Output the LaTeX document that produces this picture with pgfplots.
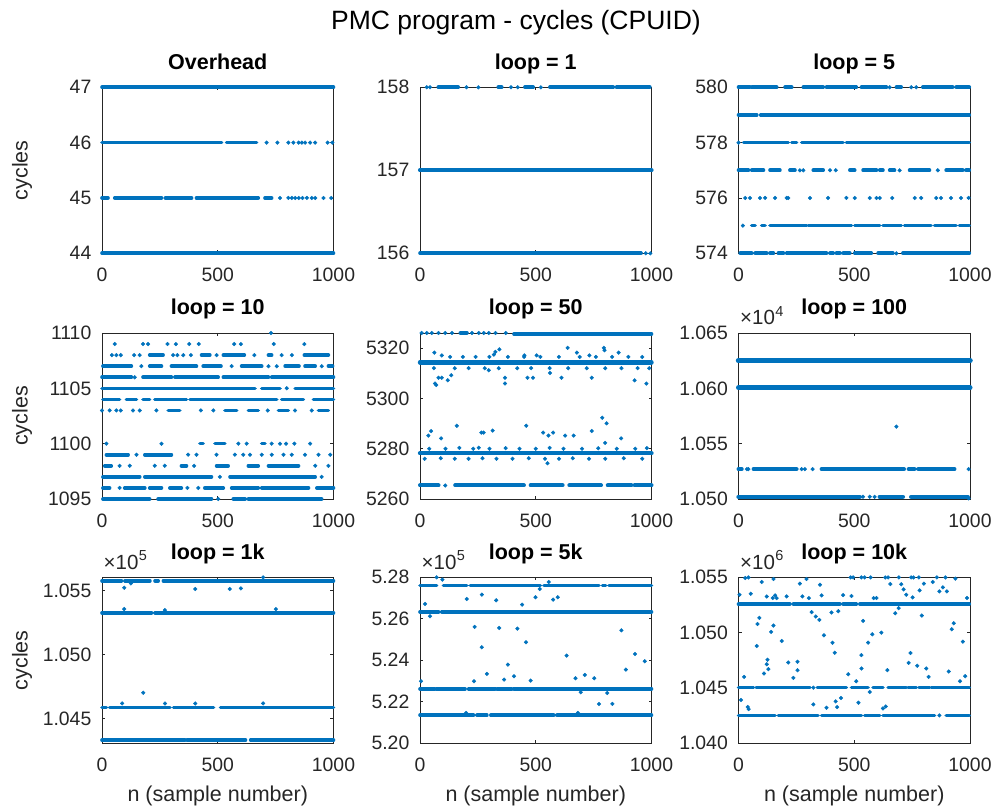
\documentclass[border=0pt]{standalone}
\usepackage{fontspec}
\setmainfont{Liberation Sans}
\usepackage{pgfplots}
\pgfplotsset{compat=1.18}

\definecolor{mblue}{RGB}{0,114,189}
\definecolor{axgray}{gray}{0.15}

\pgfplotsset{
  /pgf/number format/1000 sep={},
  /pgf/number format/assume math mode=true,
  panel/.style={
    scale only axis, width=231.5pt, height=166pt, anchor=south west,
    xmin=0, xmax=1000, xtick={0,500,1000}, clip=false,
    scaled ticks=false,
    axis line style={axgray, line width=0.8pt},
    tick style={axgray, line width=0.8pt},
    major tick length=3pt, tick align=inside,
    tick label style={font=\fontsize{19.4}{23}\selectfont, text=axgray},
    xticklabel style={anchor=north, inner sep=0pt, yshift=-14.5pt},
    yticklabel style={anchor=east, inner sep=0pt, xshift=-10.5pt},
    title style={font=\fontsize{21.5}{25}\selectfont\bfseries, text=black,
      at={(0.5,1)}, anchor=base, yshift=12pt},
    ylabel style={font=\fontsize{21.5}{25}\selectfont, text=axgray,
      at={(axis description cs:-0.3456,0.5)}, anchor=center},
    xlabel style={font=\fontsize{21.5}{25}\selectfont, text=axgray,
      at={(axis description cs:0.5,-0.3157)}, anchor=center},
    unbounded coords=jump,
  },
  % a run of consecutive samples on one level
  run/.style={mblue, line width=3.6pt, line cap=round, mark=none},
  % single samples
  dots/.style={mblue, only marks, mark=*, mark size=1.85pt,
    mark options={draw=none, fill=mblue}},
}
\tikzset{expo/.style={anchor=base west, inner sep=0pt, xshift=1.5pt, yshift=8pt,
  font=\fontsize{20.5}{24}\selectfont, text=axgray}}
\newcommand{\expten}[1]{×10\kern0.5pt\raisebox{8.5pt}{\fontsize{14.5}{16}\selectfont #1}}

\begin{document}
\begin{tikzpicture}
\useasboundingbox (0pt,0pt) rectangle (997pt,812pt);

\node[anchor=base, inner sep=0pt, font=\fontsize{26.5}{30}\selectfont, text=black]
  at (516pt,782.7pt) {PMC program - cycles (CPUID)};

% ---------------- Overhead ----------------
\begin{axis}[panel, at={(102pt,558.7pt)}, title={Overhead}, ylabel={cycles},
  ymin=44, ymax=47, ytick={44,45,46,47}]
\addplot[run] coordinates {(0,47)(1000,47)};
\addplot[run] coordinates {(0,46)(517,46)(527,nan)(538,46)(668,46)};
\addplot[dots] coordinates {(711,46)(758,46)(805,46)(827,46)(849,46)(863,46)(877,46)(899,46)(921,46)(975,46)(995,46)};
\addplot[run] coordinates {(0,45)(26,45)(40,nan)(55,45)(257,45)(265,nan)(274,45)(387,45)(397,nan)(408,45)(675,45)(690,nan)(704,45)(733,45)};
\addplot[dots] coordinates {(769,45)(805,45)(820,45)(835,45)(850,45)(866,45)(885,45)(906,45)(921,45)(957,45)(990,45)};
\addplot[run] coordinates {(0,44)(1000,44)};
\end{axis}

% ---------------- loop = 1 ----------------
\begin{axis}[panel, at={(420pt,558.7pt)}, title={loop = 1},
  ymin=156, ymax=158, ytick={156,157,158}]
\addplot[run] coordinates {(79,158)(165,158)(200,nan)(338,158)(353,158)(400,nan)(453,158)(489,158)(500,nan)(561,158)(835,158)(840,nan)(849,158)(993,158)};
\addplot[dots] coordinates {(29,158)(43,158)(201,158)(252,158)(393,158)(422,158)(522,158)};
\addplot[run, line width=4.2pt] coordinates {(0,157)(1000,157)};
\addplot[run] coordinates {(0,156)(955,156)};
\addplot[dots] coordinates {(975,156)(995,156)};
\end{axis}

% ---------------- loop = 5 ----------------
\begin{axis}[panel, at={(738.5pt,558.7pt)}, title={loop = 5},
  ymin=574, ymax=580, ytick={574,576,578,580}]
\addplot[run] coordinates {(0,580)(50,580)(53,nan)(57,580)(165,580)(180,nan)(201,580)(230,580)(250,nan)(280,580)(366,580)(370,nan)(380,580)(509,580)(520,nan)(531,580)(639,580)(660,nan)(682,580)(703,580)(750,nan)(796,580)(925,580)(930,nan)(940,580)(997,580)};
\addplot[dots] coordinates {(653,580)(746,580)(768,580)};
\addplot[run] coordinates {(0,579)(79,579)(90,nan)(96,579)(997,579)};
\addplot[run] coordinates {(22,578)(215,578)(220,nan)(230,578)(251,578)(260,nan)(273,578)(452,578)(460,nan)(466,578)(997,578)};
\addplot[dots] coordinates {(0,578)};
\addplot[run] coordinates {(0,577)(43,577)(50,nan)(57,577)(108,577)(120,nan)(136,577)(179,577)(200,nan)(222,577)(244,577)(300,nan)(323,577)(366,577)(400,nan)(481,577)(502,577)(520,nan)(538,577)(596,577)(600,nan)(610,577)(624,577)(640,nan)(653,577)(674,577)(700,nan)(739,577)(825,577)(850,nan)(897,577)(969,577)(975,nan)(983,577)(997,577)};
\addplot[dots] coordinates {(265,577)(280,577)(395,577)(420,577)(696,577)(861,577)};
\addplot[dots] coordinates {(29,576)(50,576)(93,576)(115,576)(158,576)(208,576)(215,576)(309,576)(387,576)(466,576)(502,576)(567,576)(596,576)(610,576)(664,576)(761,576)(789,576)(854,576)(875,576)(918,576)(961,576)(994,576)};
\addplot[run] coordinates {(57,575)(72,575)(85,nan)(100,575)(115,575)(125,nan)(136,575)(294,575)(297,nan)(301,575)(488,575)(495,nan)(502,575)(610,575)(617,nan)(624,575)(703,575)(710,nan)(717,575)(832,575)(840,nan)(847,575)(940,575)(947,nan)(954,575)(997,575)};
\addplot[dots] coordinates {(19,575)};
\addplot[run] coordinates {(7,574)(57,574)(65,nan)(72,574)(122,574)(130,nan)(136,574)(151,574)(160,nan)(172,574)(194,574)(200,nan)(208,574)(380,574)(390,nan)(395,574)(409,574)(415,nan)(423,574)(438,574)(445,nan)(452,574)(481,574)(490,nan)(502,574)(574,574)(590,nan)(603,574)(667,574)(690,nan)(710,574)(997,574)};
\addplot[dots] coordinates {(682,574)};
\end{axis}

% ---------------- loop = 10 ----------------
\begin{axis}[panel, at={(102pt,313pt)}, title={loop = 10}, ylabel={cycles},
  ymin=1095, ymax=1110, ytick={1095,1100,1105,1110}]
\addplot[dots] coordinates {(730,1110)};
\addplot[dots] coordinates {(55,1109)(177,1109)(199,1109)(283,1109)(319,1109)(377,1109)(418,1109)(571,1109)(600,1109)(742,1109)(874,1109)};
\addplot[run] coordinates {(206,1108)(264,1108)(300,nan)(430,1108)(466,1108)(480,nan)(524,1108)(615,1108)(650,nan)(719,1108)(733,1108)(800,nan)(874,1108)(978,1108)};
\addplot[dots] coordinates {(43,1108)(62,1108)(81,1108)(139,1108)(163,1108)(307,1108)(326,1108)(351,1108)(384,1108)(495,1108)(658,1108)(776,1108)(820,1108)};
\addplot[run] coordinates {(4,1107)(127,1107)(150,nan)(206,1107)(257,1107)(280,nan)(300,1107)(408,1107)(420,nan)(437,1107)(514,1107)(550,nan)(603,1107)(690,1107)(750,nan)(791,1107)(851,1107)(860,nan)(877,1107)(921,1107)(960,nan)(978,1107)(996,1107)};
\addplot[dots] coordinates {(170,1107)(560,1107)(719,1107)(755,1107)(949,1107)};
\addplot[run] coordinates {(0,1106)(127,1106)(150,nan)(177,1106)(300,1106)(307,nan)(315,1106)(502,1106)(510,nan)(524,1106)(719,1106)(725,nan)(733,1106)(1000,1106)};
\addplot[dots] coordinates {(141,1106)};
\addplot[run] coordinates {(0,1105)(661,1105)(675,nan)(690,1105)(769,1105)(800,nan)(834,1105)(1000,1105)};
\addplot[dots] coordinates {(798,1105)};
\addplot[run] coordinates {(4,1104)(76,1104)(90,nan)(105,1104)(149,1104)(160,nan)(177,1104)(206,1104)(215,nan)(228,1104)(365,1104)(372,nan)(380,1104)(755,1104)(765,nan)(776,1104)(870,1104)(890,nan)(913,1104)(1000,1104)};
\addplot[run] coordinates {(286,1103)(336,1103)(400,nan)(531,1103)(582,1103)(600,nan)(632,1103)(675,1103)(700,nan)(762,1103)(805,1103)(900,nan)(935,1103)(978,1103)};
\addplot[dots] coordinates {(0,1103)(33,1103)(62,1103)(81,1103)(134,1103)(163,1103)(235,1103)(427,1103)(481,1103)(716,1103)(834,1103)(906,1103)};
\addplot[run] coordinates {(423,1100)(437,1100)(460,nan)(488,1100)(531,1100)(600,nan)(690,1100)(704,1100)};
\addplot[dots] coordinates {(19,1100)(257,1100)(589,1100)(625,1100)(733,1100)(769,1100)(795,1100)(831,1100)(899,1100)};
\addplot[run] coordinates {(19,1099)(113,1099)(150,nan)(185,1099)(300,1099)};
\addplot[dots] coordinates {(149,1099)(372,1099)(408,1099)(495,1099)(574,1099)(610,1099)(639,1099)(690,1099)(733,1099)(784,1099)(820,1099)(877,1099)(935,1099)(986,1099)};
\addplot[run] coordinates {(12,1098)(40,1098)(200,nan)(343,1098)(365,1098)(450,nan)(495,1098)(545,1098)(600,nan)(632,1098)(675,1098)(700,nan)(719,1098)(849,1098)};
\addplot[dots] coordinates {(76,1098)(120,1098)(228,1098)(271,1098)(398,1098)(921,1098)(978,1098)};
\addplot[run] coordinates {(4,1097)(163,1097)(175,nan)(185,1097)(473,1097)(520,nan)(553,1097)(921,1097)};
\addplot[dots] coordinates {(509,1097)(949,1097)};
\addplot[run] coordinates {(4,1096)(33,1096)(60,nan)(98,1096)(185,1096)(195,nan)(206,1096)(257,1096)(275,nan)(293,1096)(343,1096)(430,nan)(444,1096)(524,1096)(540,nan)(560,1096)(675,1096)(682,nan)(690,1096)(892,1096)(910,nan)(928,1096)(1000,1096)};
\addplot[dots] coordinates {(76,1096)(369,1096)(416,1096)};
\addplot[run] coordinates {(4,1095)(206,1095)(225,nan)(242,1095)(473,1095)(520,nan)(567,1095)(618,1095)(625,nan)(632,1095)(949,1095)};
\addplot[dots] coordinates {(502,1095)};
\end{axis}

% ---------------- loop = 50 ----------------
\begin{axis}[panel, at={(420pt,313pt)}, title={loop = 50},
  ymin=5260, ymax=5326, ytick={5260,5280,5300,5320}]
\addplot[run] coordinates {(174,5326)(203,5326)(300,nan)(406,5325.6)(1000,5325.6)};
\addplot[dots] coordinates {(7,5326)(29,5326)(51,5326)(80,5326)(109,5326)(138,5326)(225,5326)(254,5326)(275,5326)(297,5326)(326,5326)(370,5326)};
\addplot[run, line width=4.4pt] coordinates {(0,5314.3)(1000,5314.3)};
\addplot[dots] coordinates {(130,5316.5)(185,5316.5)(240,5316.5)(300,5316.5)(380,5316.5)(450,5316.5)(520,5316.5)(600,5316.5)(690,5316.5)(760,5316.5)(830,5316.5)(900,5316.5)(960,5316.5)(60,5312)(150,5312)(210,5312)(280,5312)(340,5312)(420,5312)(480,5312)(560,5312)(640,5312)(720,5312)(800,5312)(870,5312)(940,5312)(990,5312)};
\addplot[dots] coordinates {(62,5318.2)(94,5317.1)(343,5319.5)(326,5318.5)(319,5317.4)(638,5320.1)(678,5318.2)(732,5317.1)(794,5320.1)(797,5319.1)(858,5318.2)(451,5317.1)(504,5317.1)};
\addplot[dots] coordinates {(65,5305.9)(70,5305.3)(80,5308.2)(94,5308.2)(120,5307.2)(135,5309.2)(297,5311.2)(367,5308.2)(367,5305.9)(464,5308.2)(488,5308.2)(562,5310.1)(611,5308.2)(742,5308.2)(927,5307.2)(978,5305.9)};
\addplot[run, line width=4.4pt] coordinates {(0,5278.2)(1000,5278.2)};
\addplot[dots] coordinates {(40,5280)(110,5280)(170,5280.3)(230,5280)(300,5280)(370,5280.2)(430,5280)(500,5280)(560,5280.3)(620,5280)(700,5280)(770,5280.2)(850,5280)(930,5280)(980,5280.2)(20,5276)(90,5276.2)(150,5276)(210,5276)(270,5276.2)(330,5276)(400,5276)(470,5276.2)(540,5276)(600,5276)(660,5276.2)(730,5276)(800,5276)(880,5276.2)(960,5276)};
\addplot[dots] coordinates {(36,5285.2)(48,5287)(91,5284.1)(159,5289.1)(265,5286.4)(275,5286.4)(314,5287.2)(459,5289.1)(532,5286.4)(555,5285.2)(575,5286.4)(627,5285.2)(664,5285.2)(742,5287)(787,5292.3)(806,5290.1)(800,5282.3)(869,5284.1)(254,5280.4)(551,5274.2)};
\addplot[run, line width=4pt] coordinates {(0,5265.4)(80,5265.4)(100,nan)(152,5265.4)(449,5265.4)(465,nan)(478,5265.4)(616,5265.4)(630,nan)(645,5265.4)(782,5265.4)(795,nan)(811,5265.4)(913,5265.4)(920,nan)(927,5265.4)(1000,5265.4)};
\addplot[dots] coordinates {(109,5265.4)};
\end{axis}

% ---------------- loop = 100 ----------------
\begin{axis}[panel, at={(738.5pt,313pt)}, title={loop = 100},
  ymin=10500, ymax=10650, ytick={10500,10550,10600,10650},
  yticklabels={1.050,1.055,1.060,1.065}]
\node[expo] at (rel axis cs:0,1) {\expten{4}};
\addplot[run, line width=5.5pt] coordinates {(0,10625)(1000,10625)};
\addplot[run, line width=5pt] coordinates {(0,10600.5)(1000,10600.5)};
\addplot[dots] coordinates {(682,10565.4)};
\addplot[run, line width=4pt] coordinates {(0,10527)(14,10527)(30,nan)(65,10527)(251,10527)(300,nan)(359,10527)(715,10527)(725,nan)(735,10527)(760,10527)(768,nan)(776,10527)(933,10527)};
\addplot[dots] coordinates {(36,10527)(43,10527)(273,10527)(287,10527)(320,10527)(994,10527)};
\addplot[run, line width=4.4pt] coordinates {(0,10502)(524,10502)(560,nan)(610,10502)(710,10502)(730,nan)(746,10502)(990,10502)};
\addplot[dots] coordinates {(538,10502)(567,10502)(588,10502)(994,10500.5)};
\end{axis}

% ---------------- loop = 1k ----------------
\begin{axis}[panel, at={(102pt,68.7pt)}, title={loop = 1k}, ylabel={cycles},
  xlabel={n (sample number)},
  ymin=104305, ymax=105605, ytick={104500,105000,105500},
  yticklabels={1.045,1.050,1.055}]
\node[expo] at (rel axis cs:0,1) {\expten{5}};
\addplot[run] coordinates {(0,105578)(84,105578)(92,nan)(99,105578)(207,105578)(215,nan)(229,105578)(243,105578)(255,nan)(265,105578)(1000,105578)};
\addplot[dots] coordinates {(96,105523)(125,105557)(403,105513)(552,105513)(600,105518)(696,105604)};
\addplot[run] coordinates {(0,105327)(214,105327)(220,nan)(229,105327)(1000,105327)};
\addplot[dots] coordinates {(96,105356)(272,105348)(751,105356)};
\addplot[run] coordinates {(0,104586)(19,104586)(25,nan)(33,104586)(294,104586)(300,nan)(309,104586)(482,104586)(495,nan)(512,104586)(1000,104586)};
\addplot[dots] coordinates {(87,104617)(272,104617)(403,104617)(696,104617)(178,104701)};
\addplot[run] coordinates {(0,104330)(359,104330)(363,nan)(367,104330)(620,104330)(630,nan)(642,104330)(1000,104330)};
\end{axis}

% ---------------- loop = 5k ----------------
\begin{axis}[panel, at={(420pt,68.7pt)}, title={loop = 5k},
  xlabel={n (sample number)},
  ymin=520000, ymax=528000, ytick={520000,522000,524000,526000,528000},
  yticklabels={5.20,5.22,5.24,5.26,5.28}]
\node[expo] at (rel axis cs:0,1) {\expten{5}};
\addplot[run] coordinates {(0,527600)(72,527600)(90,nan)(101,527600)(202,527600)(210,nan)(217,527600)(520,527600)(528,nan)(535,527600)(773,527600)(780,nan)(788,527600)(802,527600)(810,nan)(816,527600)(1000,527600)};
\addplot[dots] coordinates {(72,528000)(97,527888)(22,526715)(43,526121)(202,526956)(267,527165)(329,526892)(441,526683)(499,527036)(517,527438)(556,527775)(575,526924)(595,527036)};
\addplot[run] coordinates {(0,526330)(80,526330)(87,nan)(94,526330)(1000,526330)};
\addplot[dots] coordinates {(236,525607)(267,524627)(342,525559)(421,525527)(458,524868)(633,524226)(870,525446)(929,524306)(971,523953)(889,523552)(380,523792)(289,523343)(363,523070)(406,523230)(233,522990)(478,523022)(672,523134)(712,523294)(753,523134)(4,522990)};
\addplot[run] coordinates {(0,522620)(65,522620)(68,nan)(72,522620)(195,522620)(202,nan)(210,522620)(325,522620)(328,nan)(332,522620)(397,522620)(401,nan)(405,522620)(1000,522620)};
\addplot[dots] coordinates {(694,522459)(809,522427)(773,521897)(831,521897)};
\addplot[run] coordinates {(0,521350)(231,521350)(238,nan)(246,521350)(289,521350)(297,nan)(306,521350)(578,521350)(585,nan)(592,521350)(1000,521350)};
\addplot[dots] coordinates {(199,521463)(682,521463)};
\end{axis}

% ---------------- loop = 10k ----------------
\begin{axis}[panel, at={(738.5pt,68.7pt)}, title={loop = 10k},
  xlabel={n (sample number)},
  ymin=1040000, ymax=1055000, ytick={1040000,1045000,1050000,1055000},
  yticklabels={1.040,1.045,1.050,1.055}]
\node[expo] at (rel axis cs:0,1) {\expten{6}};
\addplot[run] coordinates {(0,1052580)(222,1052580)(230,nan)(237,1052580)(438,1052580)(445,nan)(452,1052580)(509,1052580)(517,nan)(524,1052580)(997,1052580)};
\addplot[run] coordinates {(0,1045030)(65,1045030)(70,nan)(76,1045030)(309,1045030)(330,nan)(340,1045030)(466,1045030)(477,nan)(488,1045030)(560,1045030)(570,nan)(581,1045030)(624,1045030)(635,nan)(646,1045030)(725,1045030)(728,nan)(732,1045030)(768,1045030)(773,nan)(779,1045030)(825,1045030)(828,nan)(832,1045030)(997,1045030)};
\addplot[dots] coordinates {(323,1045030)};
\addplot[run] coordinates {(0,1042520)(158,1042520)(165,nan)(172,1042520)(344,1042520)(350,nan)(359,1042520)(531,1042520)(538,nan)(545,1042520)(610,1042520)(617,nan)(624,1042520)(847,1042520)(880,nan)(897,1042520)(997,1042520)};
\addplot[dots] coordinates {(868,1042520)};
\addplot[dots] coordinates {(29,1054939)(43,1054990)(100,1054576)(151,1054848)(265,1054424)(294,1054848)(352,1054333)(484,1054990)(495,1054990)(531,1054990)(545,1054990)(571,1054990)(634,1054990)(646,1054990)(693,1054990)(746,1054990)(756,1054990)(779,1054990)(801,1054424)(839,1054576)(857,1054990)(894,1054990)(937,1054879)(656,1054394)(703,1054364)(713,1053909)(725,1053424)(782,1053818)(868,1053727)(883,1054091)(900,1053727)(53,1053515)(4,1053424)(122,1053273)(158,1053364)(165,1053121)(148,1053121)(208,1053273)(276,1053273)(304,1053121)(359,1053364)(452,1053394)(488,1053303)(584,1053121)(596,1053121)(752,1053182)(987,1053121)(692,1052212)};
\addplot[dots] coordinates {(316,1051849)(334,1051455)(349,1051152)(402,1051818)(431,1051940)(369,1049758)(406,1049091)(416,1048182)(538,1051061)(578,1049849)(560,1049091)(617,1050000)(677,1051758)(792,1051546)(930,1050849)(921,1050304)(969,1049182)(82,1050788)(90,1051334)(141,1050061)(151,1050637)(187,1049243)(79,1048788)(215,1047304)(255,1047364)(255,1046607)(237,1045910)(125,1047546)(122,1047152)(129,1046697)(110,1046304)(24,1046000)(474,1046243)(509,1045607)(531,1047970)(531,1046758)(643,1046607)(735,1047273)(743,1048152)(772,1047000)(811,1046758)(821,1046000)(908,1046485)(957,1045607)(979,1046061)};
\addplot[dots] coordinates {(567,1044637)(11,1043910)(40,1043273)(44,1043091)(323,1043516)(380,1043213)(420,1043789)(426,1043273)(443,1044092)(518,1043668)(624,1043152)(636,1043334)};
\end{axis}
\end{tikzpicture}
\end{document}
